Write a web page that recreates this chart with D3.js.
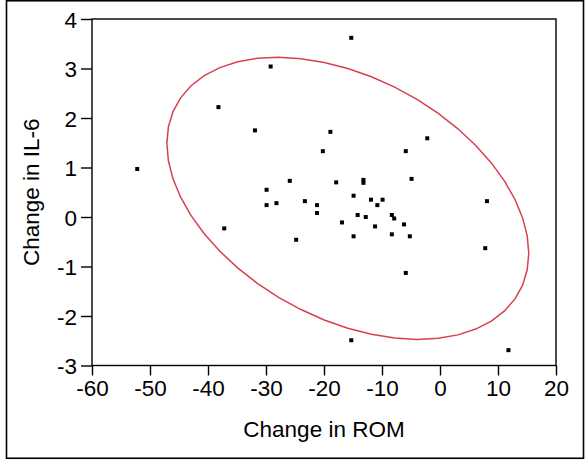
<!DOCTYPE html>
<html>
<head>
<meta charset="utf-8">
<script src="https://cdn.jsdelivr.net/npm/d3@7"></script>
<style>
  html, body { margin: 0; padding: 0; background: #fff; }
  svg { display: block; }
  text { font-family: "Liberation Sans", Arial, sans-serif; fill: #000; }
</style>
</head>
<body>
<svg id="chart" width="586" height="460"></svg>
<script>
// ---- data ----
const romChange = [-15.3, -29.2, -38.2, -31.9, -18.9, -20.2, -2.2, -5.9, -52.2, -4.9,
  -25.9, -17.9, -13.2, -13.2, -29.9, -14.9, -29.9, -28.2, -23.3, -21.2,
  -21.2, -11.9, -9.9, -10.8, -14.2, -12.8, -8.3, -7.9, -16.9, -6.2,
  -11.2, -37.2, -14.9, -8.3, -5.2, -24.8, 8.1, 7.8, -5.9, -15.3, 11.8];
const il6Change = [3.62, 3.04, 2.22, 1.75, 1.72, 1.33, 1.59, 1.33, 0.97, 0.77,
  0.73, 0.70, 0.75, 0.69, 0.55, 0.43, 0.24, 0.28, 0.32, 0.24,
  0.08, 0.35, 0.35, 0.24, 0.04, 0.00, 0.04, -0.03, -0.11, -0.15,
  -0.19, -0.23, -0.39, -0.35, -0.39, -0.46, 0.32, -0.63, -1.13, -2.49, -2.69];
const xTicks = [-60, -50, -40, -30, -20, -10, 0, 10, 20];
const yTicks = [-3, -2, -1, 0, 1, 2, 3, 4];
const xTitle = "Change in ROM";
const yTitle = "Change in IL-6";
const ellipseLevel = 0.95;

// ---- layout ----
const svg = d3.select("#chart");
const L = 92, R = 556, T = 19, B = 365.5;
const FS = 22.5;
const x = d3.scaleLinear().domain([-60, 20]).range([L, R]);
const y = d3.scaleLinear().domain([-3, 4]).range([B, T]);

// outer border
svg.append("rect").attr("x", 6.5).attr("y", 0.75).attr("width", 577).attr("height", 457.5)
  .attr("fill", "none").attr("stroke", "#000").attr("stroke-width", 1.6);

// plot frame
svg.append("rect").attr("x", L).attr("y", T).attr("width", R - L).attr("height", B - T)
  .attr("fill", "none").attr("stroke", "#000").attr("stroke-width", 1.4);

// axes
const fmt = d => String(d); // plain hyphen-minus as in the reference
const xAxis = d3.axisBottom(x).tickValues(xTicks).tickSize(10).tickPadding(5).tickFormat(fmt);
const yAxis = d3.axisLeft(y).tickValues(yTicks).tickSize(11).tickPadding(4).tickFormat(fmt);

const gx = svg.append("g").attr("transform", `translate(0,${B})`).call(xAxis);
const gy = svg.append("g").attr("transform", `translate(${L},0)`).call(yAxis);
[gx, gy].forEach(g => {
  g.select(".domain").remove();
  g.selectAll("line").attr("stroke", "#000").attr("stroke-width", 1.4);
  g.selectAll("text").attr("font-family", "Liberation Sans, Arial, sans-serif")
    .attr("font-size", FS).attr("fill", "#000");
});
gy.selectAll("text").attr("dy", "0.36em");

// axis titles
svg.append("text").attr("x", (L + R) / 2).attr("y", 437).attr("text-anchor", "middle")
  .attr("font-size", FS).text(xTitle);
svg.append("text").attr("transform", `translate(39,${(T + B) / 2}) rotate(-90)`)
  .attr("text-anchor", "middle").attr("font-size", FS).text(yTitle);

// ---- density ellipse computed from the data (bivariate normal) ----
const n = romChange.length;
const mx = d3.mean(romChange), my = d3.mean(il6Change);
let sxx = 0, syy = 0, sxy = 0;
for (let i = 0; i < n; i++) {
  const dx = romChange[i] - mx, dy = il6Change[i] - my;
  sxx += dx * dx; syy += dy * dy; sxy += dx * dy;
}
sxx /= (n - 1); syy /= (n - 1); sxy /= (n - 1);
const l11 = Math.sqrt(sxx), l21 = sxy / l11, l22 = Math.sqrt(syy - l21 * l21);
const rad = Math.sqrt(-2 * Math.log(1 - ellipseLevel));
const ts = d3.range(0, 48).map(i => i / 48 * 2 * Math.PI);
const ell = ts.map(t => {
  const u = rad * Math.cos(t), v = rad * Math.sin(t);
  return [mx + l11 * u, my + l21 * u + l22 * v];
});
svg.append("path").datum(ell)
  .attr("d", d3.line().x(d => x(d[0])).y(d => y(d[1])).curve(d3.curveLinearClosed))
  .attr("fill", "none").attr("stroke", "#d8404f").attr("stroke-width", 1.5);

// points
svg.append("g").selectAll("rect").data(romChange.map((v, i) => [v, il6Change[i]]))
  .join("rect")
  .attr("x", d => x(d[0]) - 2).attr("y", d => y(d[1]) - 2)
  .attr("width", 4).attr("height", 4).attr("fill", "#000");
</script>
</body>
</html>
